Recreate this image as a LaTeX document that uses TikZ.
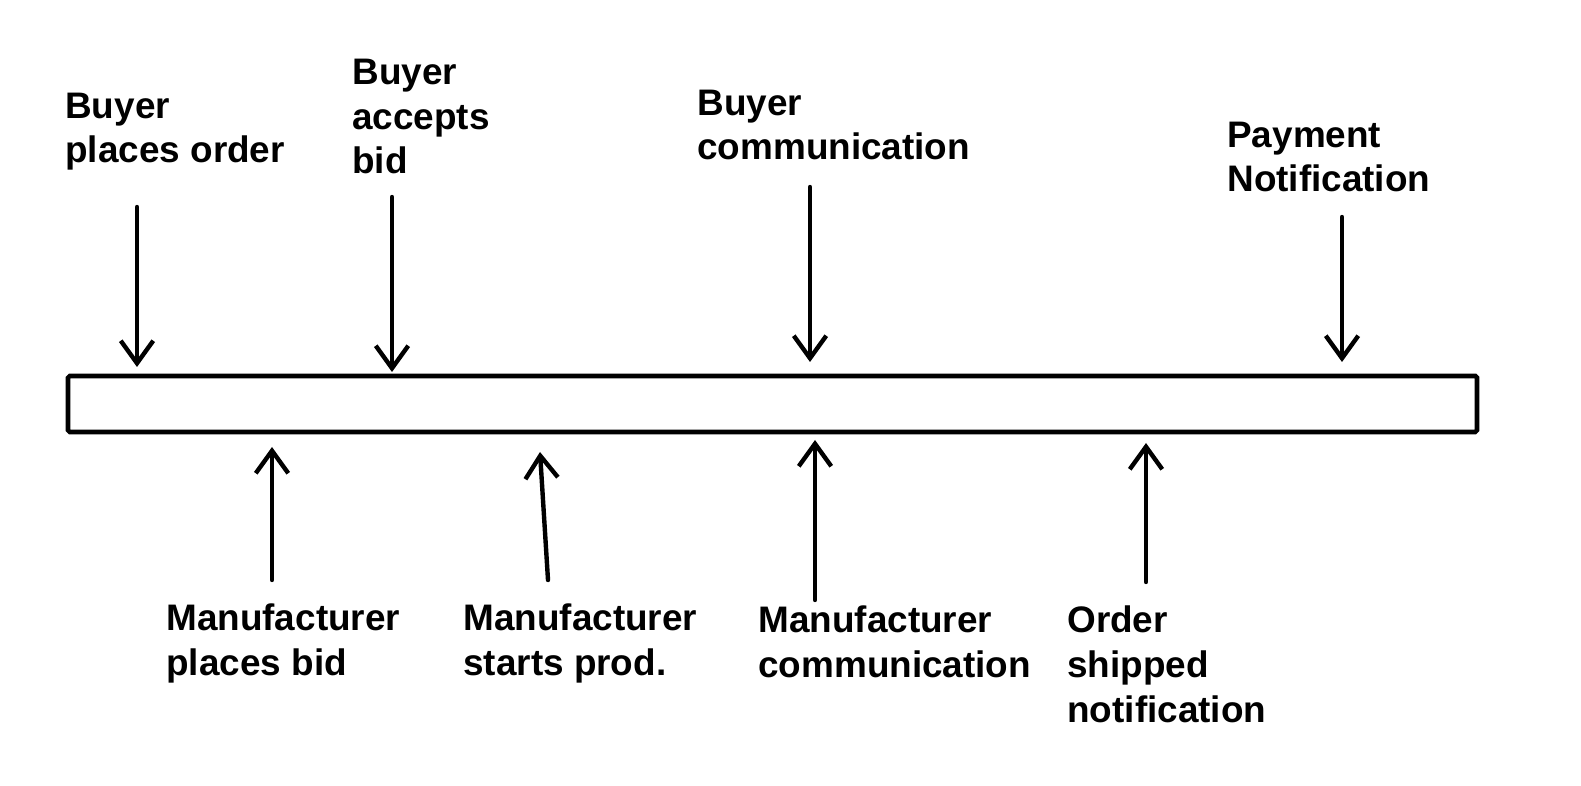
\documentclass[tikz,border=0pt]{standalone}
\usepackage{fontspec}
\setmainfont{Liberation Sans}
\usetikzlibrary{arrows.meta}
\begin{document}
\begin{tikzpicture}[
            label/.style={anchor=base west, inner sep=0pt, align=left, font=\bfseries\fontsize{21}{25.5}\selectfont},
            bar/.style={rectangle, draw, line width=2.6pt, rounded corners=1pt, minimum width=28.18cm, minimum height=1.12cm, inner sep=0pt},
            arrow/.style={-{Straight Barb[length=4.5mm,width=6.5mm]}, line width=2.5pt, line cap=round}
        ]
            \useasboundingbox (0,0) rectangle (31.62,15.70);
            \node[bar] (timeline) at (15.45,7.62) {};

            % buyer side
            \node[label] (order) at (1.30,12.44) {Buyer\\places order};
            \node[label] (accept) at (7.04,12.22) {Buyer\\accepts\\bid};
            \node[label] (bcomm) at (13.94,12.50) {Buyer\\communication};
            \node[label] (payment) at (24.54,11.86) {Payment\\Notification};

            % manufacturer side
            \node[label] (bid) at (3.32,2.20) {Manufacturer\\places bid};
            \node[label] (prod) at (9.26,2.20) {Manufacturer\\starts prod.};
            \node[label] (mcomm) at (15.16,2.16) {Manufacturer\\communication};
            \node[label] (shipped) at (21.34,1.26) {Order\\shipped\\notification};

            \coordinate (t1s) at (2.74,11.56);  \coordinate (t1e) at (2.74,8.36);
            \coordinate (t2s) at (7.84,11.76);  \coordinate (t2e) at (7.84,8.26);
            \coordinate (t3s) at (16.20,11.96); \coordinate (t3e) at (16.20,8.46);
            \coordinate (t4s) at (26.84,11.36); \coordinate (t4e) at (26.84,8.46);
            \coordinate (b1s) at (5.44,4.10);   \coordinate (b1e) at (5.44,6.76);
            \coordinate (b2s) at (10.96,4.10);  \coordinate (b2e) at (10.80,6.66);
            \coordinate (b3s) at (16.30,3.70);  \coordinate (b3e) at (16.30,6.90);
            \coordinate (b4s) at (22.92,4.06);  \coordinate (b4e) at (22.92,6.84);

            \foreach \a in {t1,t2,t3,t4,b1,b2,b3,b4}
                \draw[arrow] (\a s) -- (\a e);
        \end{tikzpicture}
\end{document}
